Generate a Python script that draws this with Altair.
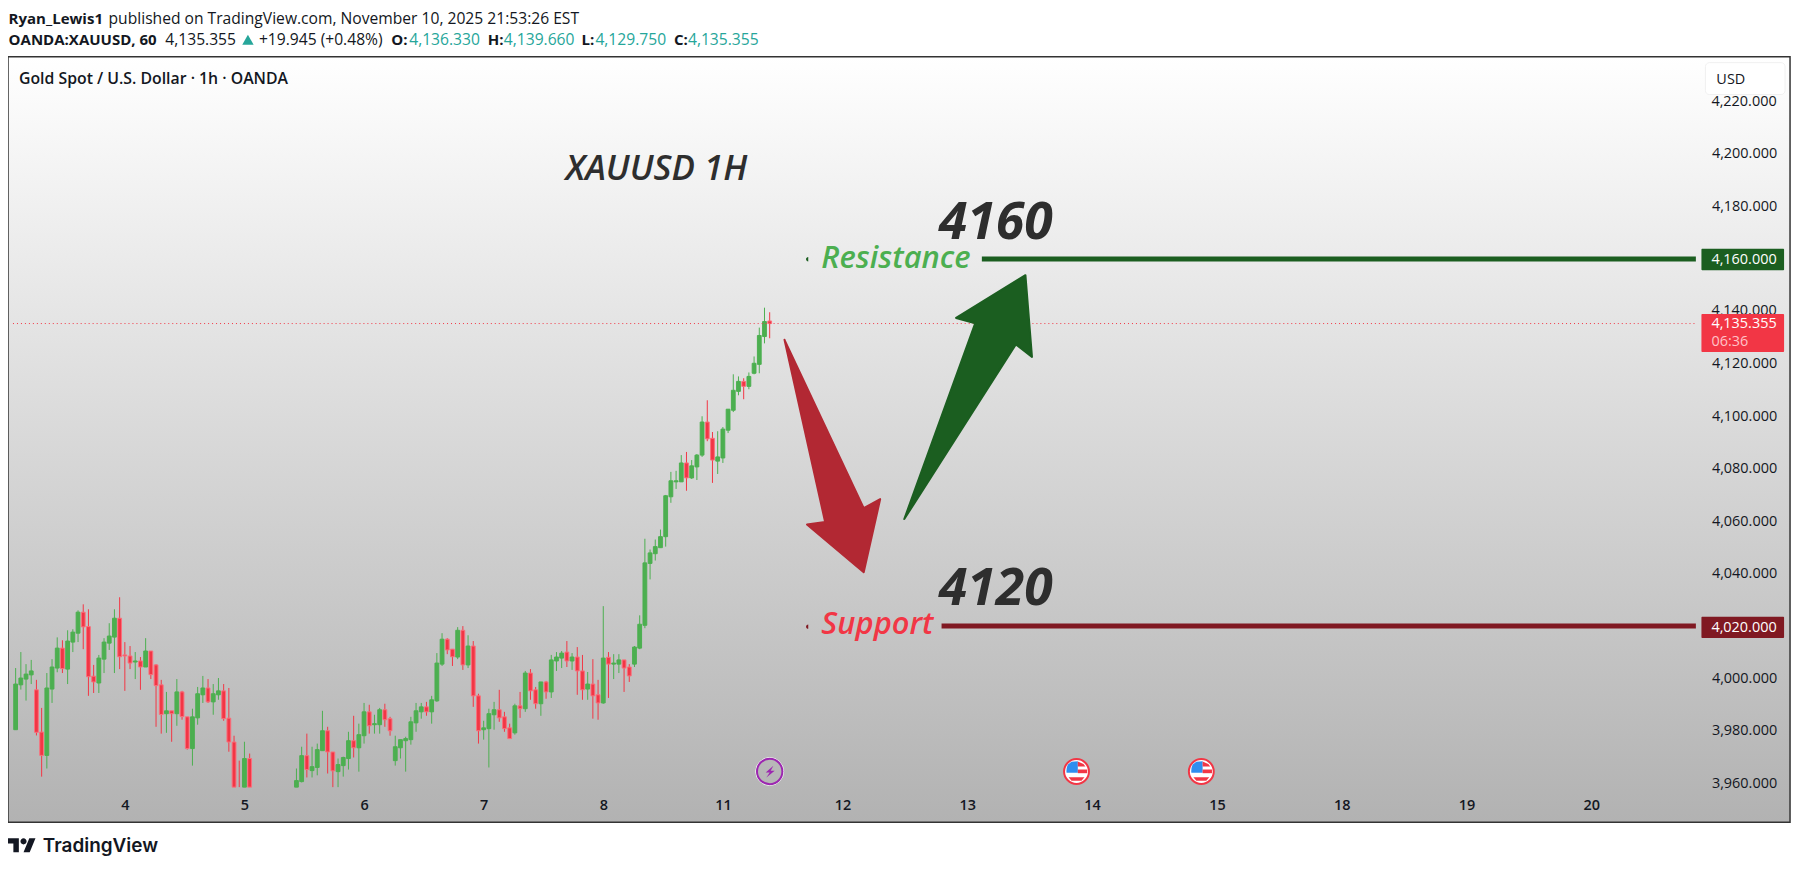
import altair as alt
import pandas as pd

# one hourly bar per slot, None = bar sits below the visible pane
opens = [3980.5, 3997.6, 3999.8, 4001.4, 3995.7, 3979.6, 3970.7, 3996.0, 4004.0, 4011.6,
         4003.6, 4013.9, 4017.3, 4025.3, 4019.8, 4000.9, 3998.3, 4007.4, 4013.5, 4015.8,
         4023.0, 4009.0, 4008.6, 4006.3, 4006.7, 4004.4, 4010.5, 4005.2, 3997.6, 3986.6,
         3987.7, 3986.6, 3994.9, 3985.4, 3973.3, 3985.0, 3993.8, 3996.4, 3991.1, 3993.8,
         3995.3, 3984.9, 3975.8, 3957.0, 3950.0, 3969.5,
         None, None, None, None, None, None, None, None,
         3950.0, 3960.7, 3970.6, 3964.9, 3966.1, 3972.5, 3980.1, 3972.0, 3964.5, 3966.8,
         3969.5, 3976.3, 3973.6, 3978.2, 3987.3, 3982.4, 3982.4, 3988.1, 3984.7, 3968.7,
         3973.6, 3976.3, 3976.7, 3983.1, 3987.3, 3989.2, 3987.3, 3991.5, 4005.5, 4015.0,
         4011.2, 4008.2, 4018.4, 4005.2, 4012.4, 3993.4, 3980.5, 3980.9, 3986.2, 3988.1,
         3985.4, 3981.2, 3979.3, 3989.6, 3988.5, 4002.1, 3995.7, 3990.4, 3998.7, 3994.9,
         4006.7, 4007.8, 4010.1, 4006.7, 4008.2, 4002.9, 3996.0, 3997.9, 3993.8, 3990.7,
         4008.1, 4005.5, 4005.5, 4007.1, 4004.4, 4005.5, 4011.6, 4020.3, 4043.9, 4047.6,
         4049.9, 4054.1, 4069.3, 4075.0, 4075.0, 4082.2, 4076.5, 4080.7, 4085.2, 4097.8,
         4091.6, 4082.9, 4084.1, 4094.7, 4102.3, 4109.5, 4113.3, 4111.4, 4116.4, 4119.8,
         4130.4, 4136.33]
closes = [3997.9, 4000.2, 4001.7, 4002.9, 3979.5, 3970.7, 3996.4, 4004.4, 4011.6, 4003.8,
          4014.3, 4017.7, 4025.3, 4019.7, 4000.7, 3998.7, 4007.8, 4013.9, 4016.2, 4023.0,
          4008.3, 4008.6, 4005.9, 4006.7, 4004.4, 4010.5, 4001.5, 3997.3, 3986.3, 3987.7,
          3986.6, 3994.9, 3985.5, 3973.3, 3985.4, 3994.2, 3996.4, 3991.1, 3994.2, 3995.3,
          3984.7, 3975.8, 3950.0, 3950.0, 3969.5, 3950.0,
          None, None, None, None, None, None, None, None,
          3961.1, 3970.6, 3965.3, 3966.4, 3972.9, 3980.1, 3972.0, 3964.8, 3967.2, 3969.9,
          3976.3, 3973.6, 3978.6, 3987.3, 3982.0, 3982.8, 3988.1, 3984.3, 3980.1, 3974.0,
          3976.7, 3977.1, 3983.5, 3987.7, 3989.2, 3987.3, 3991.9, 4005.9, 4015.0, 4010.9,
          4008.3, 4018.4, 4005.2, 4012.4, 3993.4, 3980.1, 3981.2, 3986.6, 3988.1, 3985.0,
          3980.9, 3977.1, 3989.6, 3988.5, 4002.1, 3995.3, 3990.4, 3998.7, 3994.9, 4007.1,
          4008.2, 4009.7, 4006.7, 4008.2, 4002.9, 3995.7, 3997.9, 3993.4, 3990.7, 4007.8,
          4005.5, 4005.9, 4007.1, 4004.0, 4001.0, 4012.0, 4020.7, 4044.1, 4047.9, 4050.3,
          4054.1, 4069.7, 4075.4, 4075.4, 4082.2, 4076.5, 4081.1, 4085.2, 4097.8, 4091.4,
          4083.3, 4084.5, 4095.1, 4102.7, 4109.9, 4113.3, 4111.4, 4115.2, 4120.2, 4130.8,
          4136.1, 4135.355]
highs = [4004.0, 4010.1, 4005.5, 4007.1, 3999.5, 3988.8, 4002.1, 4007.4, 4015.7, 4014.6,
         4018.4, 4018.8, 4026.0, 4028.3, 4026.4, 4005.2, 4009.0, 4015.4, 4021.1, 4026.4,
         4031.0, 4013.9, 4012.4, 4010.1, 4008.2, 4015.4, 4010.5, 4005.5, 3999.5, 3994.9,
         3987.7, 3999.8, 3995.3, 3985.4, 3988.5, 3996.8, 4001.0, 3999.8, 3997.9, 4000.2,
         3997.9, 3996.4, 3978.2, 3968.7, 3975.9, 3971.4,
         None, None, None, None, None, None, None, None,
         3965.7, 3974.0, 3979.0, 3974.0, 3975.2, 3987.7, 3981.6, 3972.0, 3969.5, 3970.2,
         3979.7, 3985.8, 3982.8, 3990.7, 3990.0, 3986.2, 3988.8, 3990.4, 3985.4, 3978.2,
         3976.7, 3977.8, 3985.4, 3990.7, 3990.7, 3991.1, 3993.4, 4009.7, 4017.3, 4015.4,
         4011.2, 4019.6, 4020.0, 4016.5, 4014.3, 3994.2, 3983.9, 3988.5, 3991.1, 3995.7,
         3987.3, 3982.8, 3990.4, 3994.9, 4002.9, 4003.6, 3996.8, 3998.7, 3999.1, 4009.0,
         4010.1, 4010.5, 4014.3, 4009.7, 4012.0, 4009.0, 4002.5, 4007.4, 3999.5, 4027.6,
         4010.1, 4009.3, 4009.3, 4007.1, 4005.5, 4012.4, 4024.1, 4053.3, 4049.2, 4053.0,
         4056.8, 4070.0, 4078.8, 4079.2, 4085.2, 4086.4, 4083.3, 4085.6, 4100.0, 4106.1,
         4094.0, 4094.3, 4095.9, 4102.7, 4116.0, 4115.2, 4114.5, 4116.7, 4122.8, 4133.8,
         4141.4, 4139.66]
lows = [3980.5, 3995.8, 3991.6, 3997.9, 3978.3, 3962.6, 3965.7, 3990.7, 4002.4, 4002.1,
        3997.9, 4010.1, 4013.9, 4011.2, 3993.4, 3994.5, 3994.5, 4002.1, 4010.9, 4002.1,
        4003.6, 3995.3, 4003.6, 3999.8, 3995.7, 4004.4, 3999.8, 3981.6, 3979.0, 3979.3,
        3975.9, 3982.0, 3984.3, 3972.9, 3966.8, 3982.4, 3990.7, 3990.7, 3986.2, 3991.9,
        3983.9, 3972.1, 3950.0, 3950.0, 3950.0, 3950.0,
        None, None, None, None, None, None, None, None,
        3950.0, 3960.4, 3962.3, 3962.3, 3963.1, 3972.5, 3963.8, 3950.0, 3950.0, 3962.6,
        3965.3, 3969.9, 3964.5, 3975.2, 3979.0, 3979.0, 3979.0, 3981.6, 3978.2, 3966.8,
        3969.5, 3964.5, 3974.8, 3979.7, 3984.7, 3985.8, 3982.8, 3991.1, 4004.8, 4009.3,
        4004.8, 4007.4, 4003.3, 4004.0, 3989.2, 3975.2, 3976.7, 3966.1, 3980.5, 3983.5,
        3979.7, 3977.1, 3978.6, 3985.0, 3987.3, 3991.9, 3988.5, 3985.8, 3992.3, 3992.6,
        4002.9, 4004.0, 4004.4, 4003.3, 3993.8, 3991.9, 3991.9, 3984.7, 3984.3, 3990.4,
        3992.6, 3999.8, 4002.1, 3994.9, 3998.7, 4004.4, 4011.2, 4019.2, 4037.8, 4045.0,
        4049.9, 4050.3, 4067.0, 4072.3, 4075.0, 4071.6, 4076.1, 4075.7, 4084.5, 4090.5,
        4074.6, 4078.0, 4082.2, 4093.6, 4101.6, 4108.0, 4106.5, 4110.3, 4116.0, 4116.4,
        4127.8, 4129.75]

pane_floor = 3958.6  # the pane cuts candles off here

# these four sit under a price tag or the USD box, so they are drawn as marks below them
axis_ticks = [3960, 3980, 4000, 4040, 4060, 4080, 4100, 4120, 4180, 4200]
covered_ticks = [4020, 4140, 4160, 4220]
day_bars = [21, 44, 67, 90, 113, 136, 159, 183, 207, 231, 255, 279, 303]
day_labels = ["4", "5", "6", "7", "8", "11", "12", "13", "14", "15", "18", "19", "20"]

down_bars = [147.85, 163.08, 166.25, 163.08, 152.17, 155.66]
down_prices = [4129.15, 4065.0, 4068.4, 4040.55, 4058.7, 4059.7]
up_bars = [170.88, 192.33, 195.44, 194.18, 180.85, 184.53]
up_prices = [4060.8, 4127.4, 4122.6, 4153.8, 4137.5, 4135.5]

last_price = 4135.355
resistance = 4160
support = 4020

UP = "#4caf50"
DOWN = "#f23645"
DOWN_EDGE = "#fb6f7c"
DARK_GREEN = "#1b5e20"
DARK_RED = "#801922"
ARROW_RED = "#b22833"
TEAL = "#26a69a"
INK = "#131722"
FONT = "Open Sans"

W, H = 1790, 769

df = pd.DataFrame({"open": opens, "high": highs, "low": lows, "close": closes})
df["bar"] = df.index
df = df.dropna()
df["dir"] = ["up" if c >= o else "down" for o, c in zip(df["open"], df["close"])]
for col in ["open", "high", "low", "close"]:
    df[col] = df[col].clip(lower=pane_floor)
bodies = df[(df["open"] > pane_floor) | (df["close"] > pane_floor)]

x_scale = alt.Scale(domain=[-0.51, 340.25], nice=False, zero=False)
y_scale = alt.Scale(domain=[3945.2, 4237.1], nice=False, zero=False)
dir_colors = alt.Scale(domain=["up", "down"], range=[UP, DOWN])
dir_edges = alt.Scale(domain=["up", "down"], range=[UP, DOWN_EDGE])

x_axis = alt.Axis(
    title=None, values=day_bars, grid=False, ticks=False, domain=False, zindex=1,
    offset=-17, labelPadding=0, labelBaseline="middle", labelFont=FONT,
    labelFontSize=14.5, labelFontWeight=600, labelColor=INK, labelAngle=0,
    labelFlush=False, labelOverlap=False,
    labelExpr="%s[indexof(%s, datum.value)]" % (day_labels, day_bars),
)
y_axis = alt.Axis(
    title=None, orient="right", values=axis_ticks, format=",.3f", grid=False,
    ticks=False, domain=False, offset=-79, labelPadding=0, labelAlign="left", zindex=1,
    labelFont=FONT, labelFontSize=14.5, labelColor=INK, labelFlush=False,
    labelOverlap=False,
)


def bar_x(field):
    return alt.X(field, scale=x_scale, axis=x_axis)


def price_y(field):
    return alt.Y(field, scale=y_scale, axis=y_axis)


def label(text, px, py, color=INK, size=15.7, weight=400, style="normal", font=FONT, align="left"):
    # px, py are page positions, baseline of the text
    return alt.Chart(pd.DataFrame({"t": [text]})).mark_text(
        font=font, fontSize=size, fontWeight=weight, fontStyle=style, color=color,
        align=align, baseline="alphabetic",
    ).encode(x=alt.value(px - 8), y=alt.value(py - 55), text="t:N")


def box(x0, x1, y0, y1, fill, stroke=None, radius=0, width=1):
    props = {"fill": fill, "cornerRadius": radius}
    if stroke:
        props["stroke"] = stroke
        props["strokeWidth"] = width
    return alt.Chart(pd.DataFrame({"a": [0]})).mark_rect(**props).encode(
        x=alt.value(x0 - 8), x2=alt.value(x1 - 8), y=alt.value(y0 - 55), y2=alt.value(y1 - 55)
    )


def arrow(bars, prices, color):
    d = pd.DataFrame({"bar": bars, "price": prices, "v": range(len(bars))})
    return alt.Chart(d).mark_line(
        fill=color, stroke=color, strokeWidth=2, strokeJoin="round", interpolate="linear-closed"
    ).encode(x=bar_x("bar:Q"), y=price_y("price:Q"), order="v:Q")


def level(start, end, price, color, width, dash=None):
    props = {"color": color, "strokeWidth": width}
    if dash:
        props["strokeDash"] = dash
    d = pd.DataFrame({"a": [start], "b": [end], "p": [price]})
    return alt.Chart(d).mark_rule(**props).encode(x=bar_x("a:Q"), x2="b:Q", y=price_y("p:Q"))


def glyph(bar, py, path, fill):
    # size=4 makes one path unit one pixel
    d = pd.DataFrame({"bar": [bar]})
    return alt.Chart(d).mark_point(
        shape=path, size=4, filled=True, fill=fill, opacity=1, strokeWidth=0
    ).encode(x=bar_x("bar:Q"), y=alt.value(py - 55))


def ring(bar, py, diameter, stroke, width, fill=None):
    d = pd.DataFrame({"bar": [bar]})
    props = {"shape": "circle", "size": diameter ** 2, "stroke": stroke, "strokeWidth": width, "opacity": 1}
    if fill:
        props["fill"] = fill
        props["filled"] = True
    return alt.Chart(d).mark_point(**props).encode(x=bar_x("bar:Q"), y=alt.value(py - 55))


pane = alt.Chart(pd.DataFrame({"a": [0]})).mark_rect(
    color=alt.LinearGradient(
        gradient="linear", x1=0, y1=0, x2=0, y2=1,
        stops=[alt.GradientStop(offset=0, color="#ffffff"), alt.GradientStop(offset=1, color="#b2b2b2")],
    )
).encode(x=alt.value(0), x2=alt.value(W), y=alt.value(0), y2=alt.value(H))

covered = alt.Chart(pd.DataFrame({"p": covered_ticks, "t": [f"{p:,.3f}" for p in covered_ticks]})).mark_text(
    font=FONT, fontSize=14.5, color=INK, align="left", baseline="middle"
).encode(x=alt.value(W - 79), y=price_y("p:Q"), text="t:N")

wicks = alt.Chart(df).mark_rule(strokeWidth=1).encode(
    x=bar_x("bar:Q"),
    y=price_y("low:Q"),
    y2="high:Q",
    color=alt.Color("dir:N", scale=dir_colors, legend=None),
)
candles = alt.Chart(bodies).mark_bar(size=3.8, strokeWidth=1).encode(
    x=bar_x("bar:Q"),
    y=price_y("open:Q"),
    y2="close:Q",
    color=alt.Color("dir:N", scale=dir_colors, legend=None),
    stroke=alt.Stroke("dir:N", scale=dir_edges, legend=None),
)

layers = [
    pane,
    covered,
    wicks,
    candles,
    level(-0.51, 323.1, last_price, DOWN, 1, [1, 3]),
    arrow(down_bars, down_prices, ARROW_RED),
    arrow(up_bars, up_prices, DARK_GREEN),
    level(185.8, 323.1, resistance, DARK_GREEN, 5),
    level(178.05, 323.1, support, DARK_RED, 5),
    glyph(152.7, 258.5, "M-1.5 -2.2A2.2 2.2 0 0 0 -1.5 2.2Z", DARK_GREEN),
    glyph(152.7, 627.5, "M-1.5 -2.2A2.2 2.2 0 0 0 -1.5 2.2Z", DARK_RED),
    label("XAUUSD 1H", 568, 179, "#2e2e2e", 35, 600, "italic"),
    label("4160", 943, 238, "#2e2e2e", 52, 700, "italic"),
    label("4120", 943, 606, "#2e2e2e", 52, 700, "italic"),
    label("Resistance", 825, 267, UP, 31, 600, "italic"),
    label("Support", 825, 635, DOWN, 31, 600, "italic"),
    # price tags on the scale
    box(1709, 1792, 248, 269.5, DARK_GREEN, radius=1),
    label("4,160.000", 1719, 263.5, "#ffffff", 14.5, 500),
    box(1709, 1792, 313.5, 351.5, DOWN, radius=1),
    label("4,135.355", 1719, 328, "#ffffff", 14.5, 500),
    label("06:36", 1719, 345.5, "#ffc2c7", 14.5, 400),
    box(1709, 1792, 617.5, 639, DARK_RED, radius=1),
    label("4,020.000", 1719, 633, "#ffffff", 14.5, 500),
    box(1713, 1793, 61, 93, "#ffffff", "#f0f0f0", 4),
    label("USD", 1724, 82, INK, 14.5),
    label("Gold Spot / U.S. Dollar · 1h · OANDA", 19, 82, INK, 15.9, 600),
    # event markers
    ring(145, 773, 28, "#ffffff", 1),
    ring(145, 773, 25.5, "#9c27b0", 2),
    glyph(145, 773, "M3.7 -5.7L-4 1L0 1L-3.3 6L5 -0.7L1 -0.7Z", "#9c27b0"),
]
for bar in [204, 228]:
    layers += [
        ring(bar, 773, 25, "#f23645", 2, "#ffffff"),
        glyph(bar, 773, "M-8.7 -7L-5 -9.7L1.3 -10.4L1.3 1.3L-10 1.3Q-10.5 -3 -8.7 -7Z", "#2f8ef0"),
        glyph(bar, 773, "M1.3 -10L7 -7.5L9 -5L1.3 -5Z", "#f23645"),
        glyph(bar, 773, "M1.3 -2L10.7 -2L10.7 1.7L1.3 1.7Z", "#f23645"),
        glyph(bar, 773, "M-8 5.7L8 5.7L5 9.3L-5 9.3Z", "#f23645"),
    ]

# frame, header lines above the pane, footer logo
layers += [
    box(8, 1798, 55, 824, "transparent", "#333333", 0, 1.5),
    label("Ryan_Lewis1", 8.6, 22, INK, 15.1, 700),
    label("published on TradingView.com, November 10, 2025 21:53:26 EST", 109, 22),
    label("OANDA:XAUUSD, 60", 8.6, 43.5, INK, 15.1, 700),
    label("4,135.355", 166, 43.5),
    alt.Chart(pd.DataFrame({"a": [0]})).mark_point(
        shape="triangle-up", size=130, filled=True, fill=TEAL, opacity=1
    ).encode(x=alt.value(249 - 8), y=alt.value(38 - 55)),
    label("+19.945 (+0.48%)", 260, 43.5),
    label("O:", 393, 43.5, INK, 15.1, 700),
    label("4,136.330", 411, 43.5, TEAL),
    label("H:", 490, 43.5, INK, 15.1, 700),
    label("4,139.660", 506, 43.5, TEAL),
    label("L:", 584, 43.5, INK, 15.1, 700),
    label("4,129.750", 598, 43.5, TEAL),
    label("C:", 677, 43.5, INK, 15.1, 700),
    label("4,135.355", 691, 43.5, TEAL),
    alt.Chart(pd.DataFrame({"a": [0]})).mark_point(
        shape="M-3.1 7L-8.6 7L-8.6 -1.6L-14 -1.6L-14 -7L-3.1 -7ZM7.8 7L1.6 7L7.4 -7L13.6 -7Z"
              "M-1.5 -3.9a3.1 3.1 0 1 0 6.2 0a3.1 3.1 0 1 0 -6.2 0Z",
        size=4, filled=True, fill=INK, opacity=1, strokeWidth=0,
    ).encode(x=alt.value(14), y=alt.value(847 - 55)),
    label("TradingView", 43, 854, INK, 19, 600, font="Inter"),
]

chart = alt.layer(*layers).properties(
    width=W, height=H,
    padding={"left": 0, "top": 47, "right": 9, "bottom": 40},
    autosize=alt.AutoSizeParams(type="none"),
    background="#ffffff",
).configure_view(stroke=None)

chart.save("out.html", embed_options={"renderer": "svg", "actions": False})
